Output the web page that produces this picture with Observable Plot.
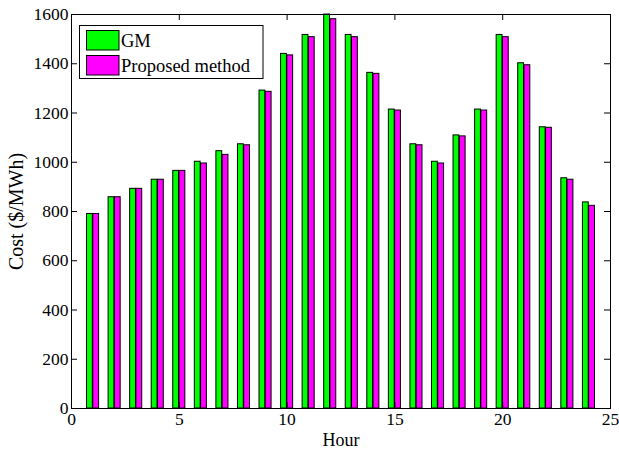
<!DOCTYPE html>
<html>
<head>
<meta charset="utf-8">
<script src="https://cdn.jsdelivr.net/npm/d3@7"></script>
<script src="https://cdn.jsdelivr.net/npm/@observablehq/plot@0.6"></script>
<style>
  html, body { margin: 0; padding: 0; background: #fff; }
  #chart { width: 619px; height: 451px; }
  #chart svg text { font-family: 'Liberation Serif', 'Times New Roman', serif; }
</style>
</head>
<body>
<div id="chart"></div>
<script>
const hours = [1,2,3,4,5,6,7,8,9,10,11,12,13,14,15,16,17,18,19,20,21,22,23,24];
const gm = [790, 858, 892, 929, 965, 1002, 1045, 1073, 1291, 1440, 1517, 1600, 1517, 1363, 1214, 1073, 1002, 1109, 1214, 1517, 1402, 1142, 935, 837];
const proposed = [790, 858, 892, 929, 965, 995, 1030, 1069, 1286, 1434, 1508, 1581, 1508, 1359, 1210, 1069, 995, 1105, 1210, 1508, 1394, 1140, 929, 823];
const seriesNames = ["GM", "Proposed method"];
const seriesColors = ["#00ff00", "#ff00ff"];
const xTicks = [0, 5, 10, 15, 20, 25];
const yTicks = [0, 200, 400, 600, 800, 1000, 1200, 1400, 1600];
const xLabel = "Hour";
const yLabel = "Cost ($/MWh)";

const rows = hours.flatMap((h, i) => [
  {hour: h, series: seriesNames[0], value: gm[i]},
  {hour: h, series: seriesNames[1], value: proposed[i]}
]);

const W = 619, H = 451;
const mL = 71, mR = 9, mT = 14, mB = 43;
const pw = W - mL - mR, ph = H - mT - mB;
const tk = 6;
const font = "'Liberation Serif', 'Times New Roman', serif";
const fmt = d => String(d);

const chart = Plot.plot({
  width: W, height: H,
  marginLeft: mL, marginRight: mR, marginTop: mT, marginBottom: mB,
  style: {fontFamily: font, fontSize: "17.5px", background: "#fff", color: "#000"},
  x: {domain: [0, 25], ticks: xTicks},
  y: {domain: [0, 1600], ticks: yTicks},
  color: {domain: seriesNames, range: seriesColors},
  marks: [
    Plot.rectY(rows, {
      x1: d => d.hour + (d.series === seriesNames[0] ? -0.28 : 0.01),
      x2: d => d.hour + (d.series === seriesNames[0] ? -0.01 : 0.28),
      y1: 0, y2: "value",
      fill: "series", stroke: "#000", strokeWidth: 1
    }),
    Plot.ruleX(xTicks, {x: d => d, insetTop: ph - tk, stroke: "#000"}),
    Plot.ruleX(xTicks, {x: d => d, insetBottom: ph - tk, stroke: "#000"}),
    Plot.ruleY(yTicks, {y: d => d, insetRight: pw - tk, stroke: "#000"}),
    Plot.ruleY(yTicks, {y: d => d, insetLeft: pw - tk, stroke: "#000"}),
    Plot.axisX(xTicks, {tickSize: 0, tickPadding: 4, label: null, tickFormat: fmt, fontSize: 17.5, fontFamily: font, fontVariant: "normal"}),
    Plot.axisY(yTicks, {tickSize: 0, tickPadding: 3, label: null, tickFormat: fmt, fontSize: 17.5, fontFamily: font, fontVariant: "normal"}),
    Plot.text([xLabel], {text: d => d, frameAnchor: "bottom", dy: 32, lineAnchor: "middle", fontSize: 18, fontFamily: font}),
    Plot.text([yLabel], {text: d => d, frameAnchor: "left", dx: -55, rotate: -90, textAnchor: "middle", lineAnchor: "middle", fontSize: 20, fontFamily: font}),
    Plot.frame({stroke: "#000", strokeWidth: 1})
  ]
});

// Legend inside the plot area (top-left), built from the series arrays
const svg = d3.select(chart);
const lg = svg.append("g").attr("font-family", font).attr("font-size", 18.5).attr("text-anchor", "start");
lg.append("rect").attr("x", 79.5).attr("y", 25.5).attr("width", 183.5).attr("height", 53)
  .attr("fill", "#fff").attr("stroke", "#000").attr("stroke-width", 1);
seriesNames.forEach((name, i) => {
  const y0 = 30.5 + i * 25;
  lg.append("rect").attr("x", 86.5).attr("y", y0).attr("width", 32.5).attr("height", 19.5)
    .attr("fill", seriesColors[i]).attr("stroke", "#000").attr("stroke-width", 1);
  lg.append("text").attr("x", 121).attr("y", y0 + 16.5).attr("fill", "#000")
    .attr("text-anchor", "start").text(name);
});

document.getElementById("chart").appendChild(chart);
</script>
</body>
</html>
